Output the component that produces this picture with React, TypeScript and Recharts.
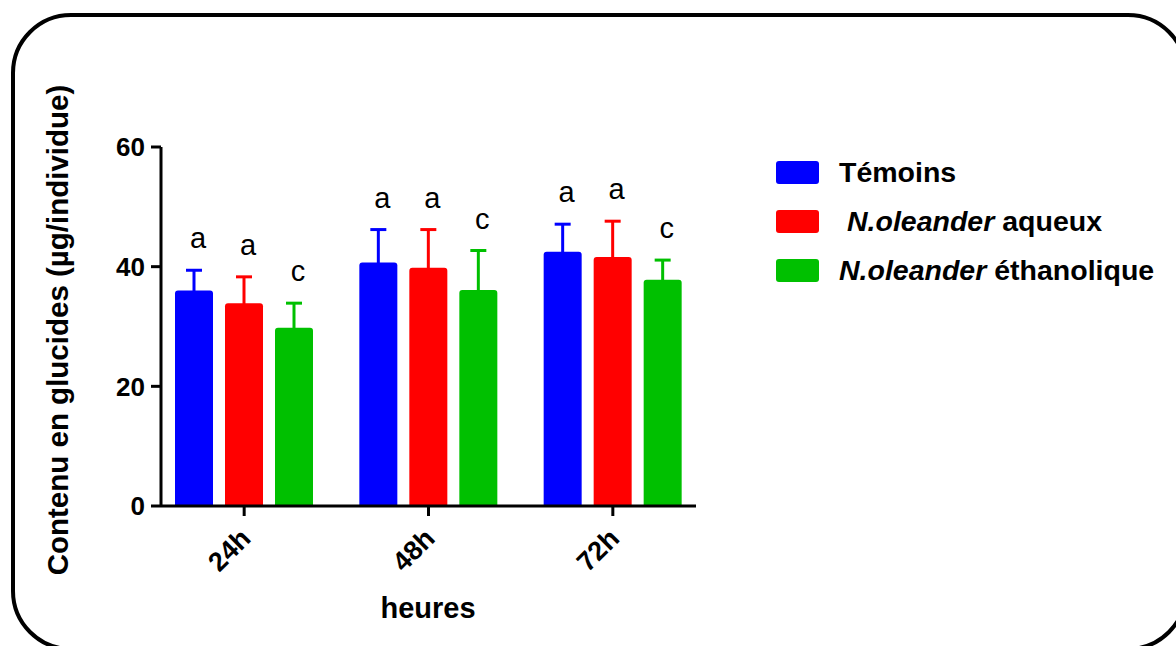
import React from 'react';
import {
  BarChart,
  Bar,
  XAxis,
  YAxis,
  ErrorBar,
  LabelList,
  Legend,
  Label,
} from 'recharts';

// Values (glucide content, µg/individual)
const hours = ['24h', '48h', '72h'];
const temoins = [36.0, 40.7, 42.5];
const temoinsErr = [3.4, 5.5, 4.6];
const aqueux = [33.9, 39.8, 41.6];
const aqueuxErr = [4.4, 6.4, 6.0];
const ethanol = [29.8, 36.1, 37.8];
const ethanolErr = [4.1, 6.6, 3.3];
const temoinsLetters = ['a', 'a', 'a'];
const aqueuxLetters = ['a', 'a', 'a'];
const ethanolLetters = ['c', 'c', 'c'];
const yTicks = [0, 20, 40, 60];

const COLORS = {
  temoins: '#0000ff',
  aqueux: '#ff0000',
  ethanol: '#00c000',
};

const FONT = '"Liberation Sans", Arial, Helvetica, sans-serif';

// lower error kept tiny so the lower cap hides inside the bar
const data = hours.map((time, i) => ({
  time,
  temoins: temoins[i],
  temoinsErr: [1, temoinsErr[i]],
  aqueux: aqueux[i],
  aqueuxErr: [1, aqueuxErr[i]],
  ethanol: ethanol[i],
  ethanolErr: [1, ethanolErr[i]],
}));

// significance letter above the error bar
function letterRenderer(letters: string[], values: number[], errs: number[]) {
  return (props: any) => {
    const { x, y, width, height, index } = props;
    const perUnit = height / values[index];
    const top = y - errs[index] * perUnit;
    return (
      <text
        key={`l-${index}`}
        x={x + width / 2 + 4}
        y={top - 22}
        textAnchor="middle"
        fontSize={29}
        fill="#000"
        fontFamily={FONT}
      >
        {letters[index]}
      </text>
    );
  };
}

function XTick({ x, y, payload }: any) {
  return (
    <g transform={`translate(${x + 8},${y + 22}) rotate(-45)`}>
      <text x={0} y={0} textAnchor="end" fontSize={27} fontWeight="bold" fill="#000" fontFamily={FONT}>
        {payload.value}
      </text>
    </g>
  );
}

function CustomLegend() {
  const rows = [
    { color: COLORS.temoins, italic: '', rest: 'Témoins', pad: 0 },
    { color: COLORS.aqueux, italic: 'N.oleander', rest: ' aqueux', pad: 8 },
    { color: COLORS.ethanol, italic: 'N.oleander', rest: ' éthanolique', pad: 0 },
  ];
  return (
    <div style={{ fontFamily: FONT }}>
      {rows.map((r, i) => (
        <div key={i} style={{ display: 'flex', alignItems: 'center', height: 49 }}>
          <span
            style={{
              display: 'inline-block',
              width: 43,
              height: 23,
              borderRadius: 3,
              background: r.color,
              marginRight: 20 + r.pad,
            }}
          />
          <span style={{ fontSize: 28.5, fontWeight: 'bold', color: '#000', whiteSpace: 'pre' }}>
            {r.italic && <i>{r.italic}</i>}
            {r.rest}
          </span>
        </div>
      ))}
    </div>
  );
}

export default function App() {
  return (
    <div
      style={{
        position: 'absolute',
        left: 0,
        top: 0,
        width: 1176,
        height: 646,
        overflow: 'hidden',
        background: '#fff',
        fontFamily: FONT,
      }}
    >
      <div
        style={{
          position: 'absolute',
          left: 11,
          top: 13,
          width: 1177,
          height: 638,
          boxSizing: 'border-box',
          border: '4px solid #000',
          borderRadius: 60,
        }}
      />
      <div style={{ position: 'absolute', left: 0, top: 0 }}>
        <BarChart
          width={1176}
          height={646}
          data={data}
          margin={{ top: 147, right: 480, bottom: 80, left: 101 }}
          barSize={38}
          barGap={12}
        >
          <XAxis
            dataKey="time"
            height={60}
            padding={{ left: -9, right: -9 }}
            axisLine={{ stroke: '#000', strokeWidth: 3 }}
            tickLine={{ stroke: '#000', strokeWidth: 3 }}
            tickSize={10}
            interval={0}
            tick={<XTick />}
          >
            <Label
              content={() => (
                <text x={428} y={618} textAnchor="middle" fontSize={29} fontWeight="bold" fill="#000" fontFamily={FONT}>
                  heures
                </text>
              )}
            />
          </XAxis>
          <YAxis
            width={60}
            domain={[0, 60]}
            ticks={yTicks}
            axisLine={{ stroke: '#000', strokeWidth: 3 }}
            tickLine={{ stroke: '#000', strokeWidth: 3 }}
            tickSize={10}
            tickMargin={6}
            tick={{ fill: '#000', fontSize: 26, fontWeight: 'bold', fontFamily: FONT }}
          >
            <Label
              content={() => (
                <text
                  transform="translate(68,330) rotate(-90)"
                  textAnchor="middle"
                  fontSize={29.5}
                  fontWeight="bold"
                  fill="#000"
                  fontFamily={FONT}
                >
                  Contenu en glucides (µg/individue)
                </text>
              )}
            />
          </YAxis>
          <Legend
            layout="vertical"
            align="center"
            verticalAlign="middle"
            content={<CustomLegend />}
            wrapperStyle={{ position: 'absolute', left: 776, top: 148, width: 400 }}
          />
          <Bar dataKey="temoins" name="Témoins" fill={COLORS.temoins} radius={[3, 3, 0, 0]} isAnimationActive={false}>
            <ErrorBar dataKey="temoinsErr" direction="y" width={8} strokeWidth={3} stroke={COLORS.temoins} />
            <LabelList dataKey="temoins" content={letterRenderer(temoinsLetters, temoins, temoinsErr)} />
          </Bar>
          <Bar dataKey="aqueux" name="N.oleander aqueux" fill={COLORS.aqueux} radius={[3, 3, 0, 0]} isAnimationActive={false}>
            <ErrorBar dataKey="aqueuxErr" direction="y" width={8} strokeWidth={3} stroke={COLORS.aqueux} />
            <LabelList dataKey="aqueux" content={letterRenderer(aqueuxLetters, aqueux, aqueuxErr)} />
          </Bar>
          <Bar dataKey="ethanol" name="N.oleander éthanolique" fill={COLORS.ethanol} radius={[3, 3, 0, 0]} isAnimationActive={false}>
            <ErrorBar dataKey="ethanolErr" direction="y" width={8} strokeWidth={3} stroke={COLORS.ethanol} />
            <LabelList dataKey="ethanol" content={letterRenderer(ethanolLetters, ethanol, ethanolErr)} />
          </Bar>
        </BarChart>
      </div>
    </div>
  );
}
